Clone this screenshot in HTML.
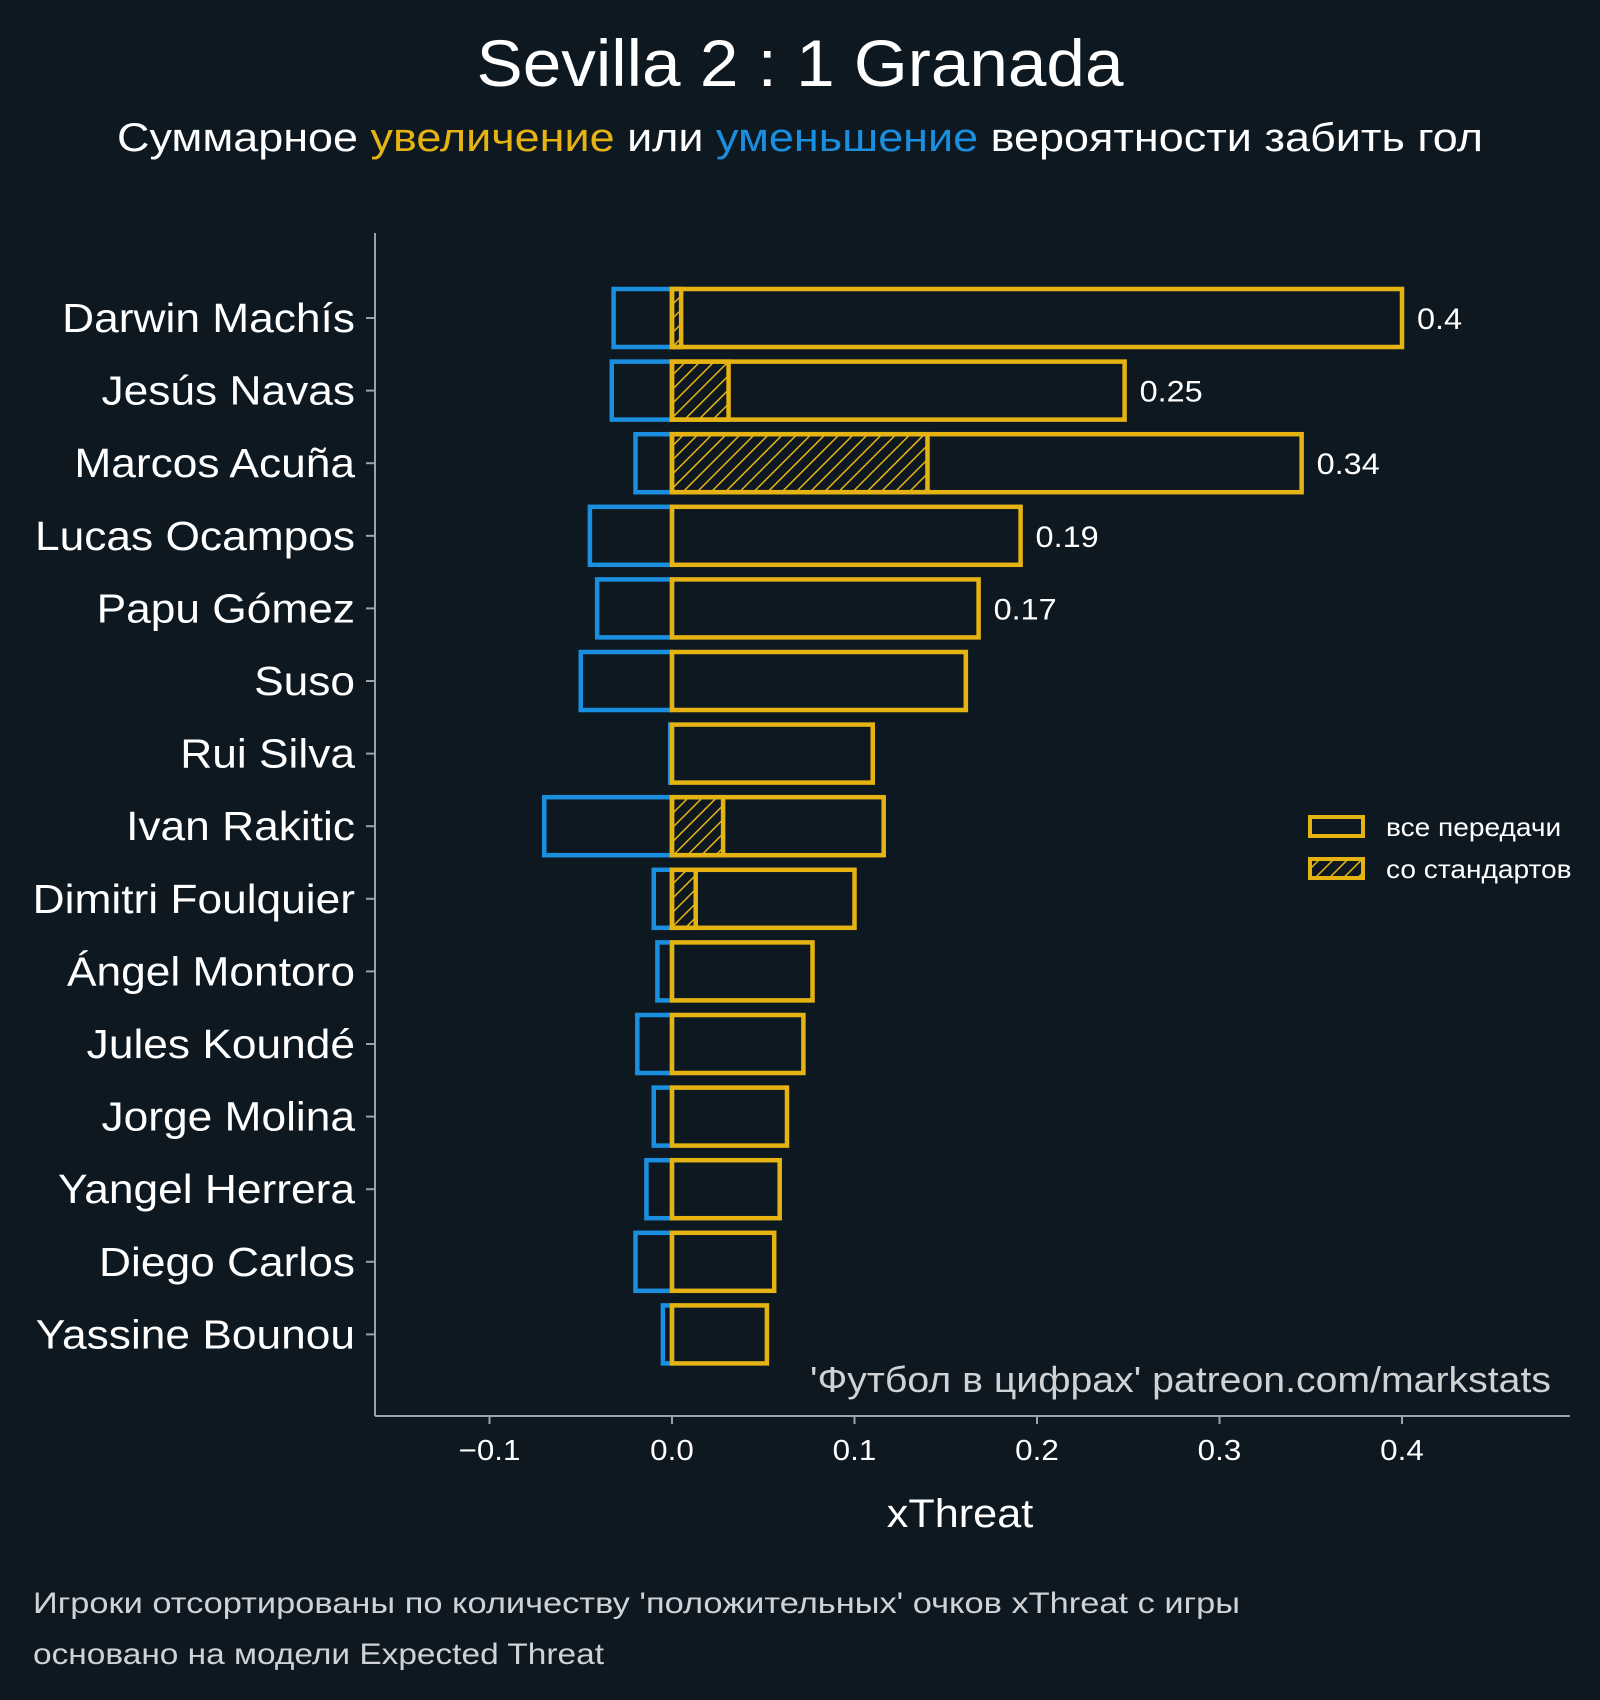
<!DOCTYPE html>
<html><head><meta charset="utf-8">
<style>
html,body{margin:0;padding:0;background:#0e1821;}
svg{display:block;font-family:"Liberation Sans","DejaVu Sans",sans-serif;}
</style></head>
<body>
<svg id="chart" width="1600" height="1700" viewBox="0 0 1600 1700" xmlns="http://www.w3.org/2000/svg">
<defs>
<pattern id="hatch" patternUnits="userSpaceOnUse" width="10" height="10" patternTransform="rotate(45)">
<rect width="10" height="10" fill="#0e1821"/>
<line x1="0" y1="0" x2="0" y2="10" stroke="#e6b412" stroke-width="3"/>
</pattern>
</defs>
<rect width="1600" height="1700" fill="#0e1821"/>
<text x="800" y="86" text-anchor="middle" font-size="66" fill="#ffffff" textLength="647" lengthAdjust="spacingAndGlyphs">Sevilla 2 : 1 Granada</text>
<text x="800" y="151" text-anchor="middle" font-size="40" fill="#ffffff" textLength="1366" lengthAdjust="spacingAndGlyphs">Суммарное <tspan fill="#e6b412">увеличение</tspan> или <tspan fill="#1a8fe0">уменьшение</tspan> вероятности забить гол</text>
<g id="plot"></g>
<g>
<rect x="1310" y="817" width="53" height="19" fill="none" stroke="#e6b412" stroke-width="4"/>
<text class="sc" x="1386" y="836" font-size="26" fill="#ffffff">все передачи</text>
<rect x="1310" y="859" width="53" height="19" fill="url(#hatch)" stroke="#e6b412" stroke-width="4"/>
<text class="sc" x="1386" y="878" font-size="26" fill="#ffffff">со стандартов</text>
</g>
<text x="1551" y="1392" text-anchor="end" font-size="36" fill="#cfd3d6" textLength="741" lengthAdjust="spacingAndGlyphs">'Футбол в цифрах' patreon.com/markstats</text>
<text class="sc" x="960" y="1527" text-anchor="middle" font-size="40" fill="#ffffff">xThreat</text>
<text x="33" y="1613" font-size="30" fill="#cfd3d6" textLength="1207" lengthAdjust="spacingAndGlyphs">Игроки отсортированы по количеству 'положительных' очков xThreat с игры</text>
<text x="33" y="1664" font-size="30" fill="#cfd3d6" textLength="571" lengthAdjust="spacingAndGlyphs">основано на модели Expected Threat</text>
</svg>
<script>
const players = ["Darwin Machís","Jesús Navas","Marcos Acuña","Lucas Ocampos","Papu Gómez","Suso","Rui Silva","Ivan Rakitic","Dimitri Foulquier","Ángel Montoro","Jules Koundé","Jorge Molina","Yangel Herrera","Diego Carlos","Yassine Bounou"];
const positiveValues = [0.4,0.248,0.345,0.191,0.168,0.161,0.11,0.116,0.1,0.077,0.072,0.063,0.059,0.056,0.052];
const setPieceValues = [0.005,0.031,0.14,0,0,0,0,0.028,0.013,0,0,0,0,0,0];
const negativeValues = [-0.032,-0.033,-0.02,-0.045,-0.041,-0.05,-0.001,-0.07,-0.01,-0.008,-0.019,-0.01,-0.014,-0.02,-0.005];
const valueLabels = ["0.4","0.25","0.34","0.19","0.17","","","","","","","","","",""];
const xTicks = [-0.1,0,0.1,0.2,0.3,0.4];
const xTickLabels = ["−0.1","0.0","0.1","0.2","0.3","0.4"];

const NS="http://www.w3.org/2000/svg";
const plot=document.getElementById('plot');
const x0=672, pxPer=1825;
const xs=v=>x0+v*pxPer;
const yFirst=318, yStep=72.6, barH=58;
const ys=i=>yFirst+i*yStep;
function el(tag,attrs){const e=document.createElementNS(NS,tag);for(const k in attrs)e.setAttribute(k,attrs[k]);plot.appendChild(e);return e;}

let s=el('line',{x1:375,y1:233,x2:375,y2:1416,stroke:'#9aa3a8','stroke-width':2});


s=el('line',{x1:375,y1:1416,x2:1570,y2:1416,stroke:'#9aa3a8','stroke-width':2});



xTicks.forEach((t,i)=>{
  const tk=el('line',{x1:xs(t),y1:1416,x2:xs(t),y2:1424,stroke:'#9aa3a8','stroke-width':2});
  
  
  const tl=el('text',{x:xs(t),y:1460,'text-anchor':'middle','font-size':29,fill:'#ffffff','class':'sc'});
  tl.textContent=xTickLabels[i];
  
  
});

players.forEach((p,i)=>{
  const y=ys(i);
  const tk=el('line',{x1:366,y1:y,x2:375,y2:y,stroke:'#9aa3a8','stroke-width':2});
  
  
  const lbl=el('text',{x:355,y:y+14,'text-anchor':'end','font-size':41,fill:'#ffffff','class':'sc'});
  lbl.textContent=p;
  
  

  const n=negativeValues[i];
  const nb=el('rect',{x:xs(n),y:y-barH/2,width:xs(0)-xs(n),height:barH,fill:'none',stroke:'#1a8fe0','stroke-width':4.5});
  
  

  if(setPieceValues[i]>0){
    const sb=el('rect',{x:xs(0),y:y-barH/2,width:xs(setPieceValues[i])-xs(0),height:barH,fill:'url(#hatch)',stroke:'#e6b412','stroke-width':4.5});
    
    
  }
  const pv=positiveValues[i];
  const pb=el('rect',{x:xs(0),y:y-barH/2,width:xs(pv)-xs(0),height:barH,fill:'none',stroke:'#e6b412','stroke-width':4.5});
  
  

  if(valueLabels[i]){
    const vl=el('text',{x:xs(pv)+15,y:y+11,'font-size':30,fill:'#ffffff','class':'sc'});
    vl.textContent=valueLabels[i];
    
    
  }
});

document.querySelectorAll('text.sc').forEach(t=>{
  const w=t.getComputedTextLength();
  t.setAttribute('textLength',(w*1.08).toFixed(1));
  t.setAttribute('lengthAdjust','spacingAndGlyphs');
});
</script>
</body></html>
